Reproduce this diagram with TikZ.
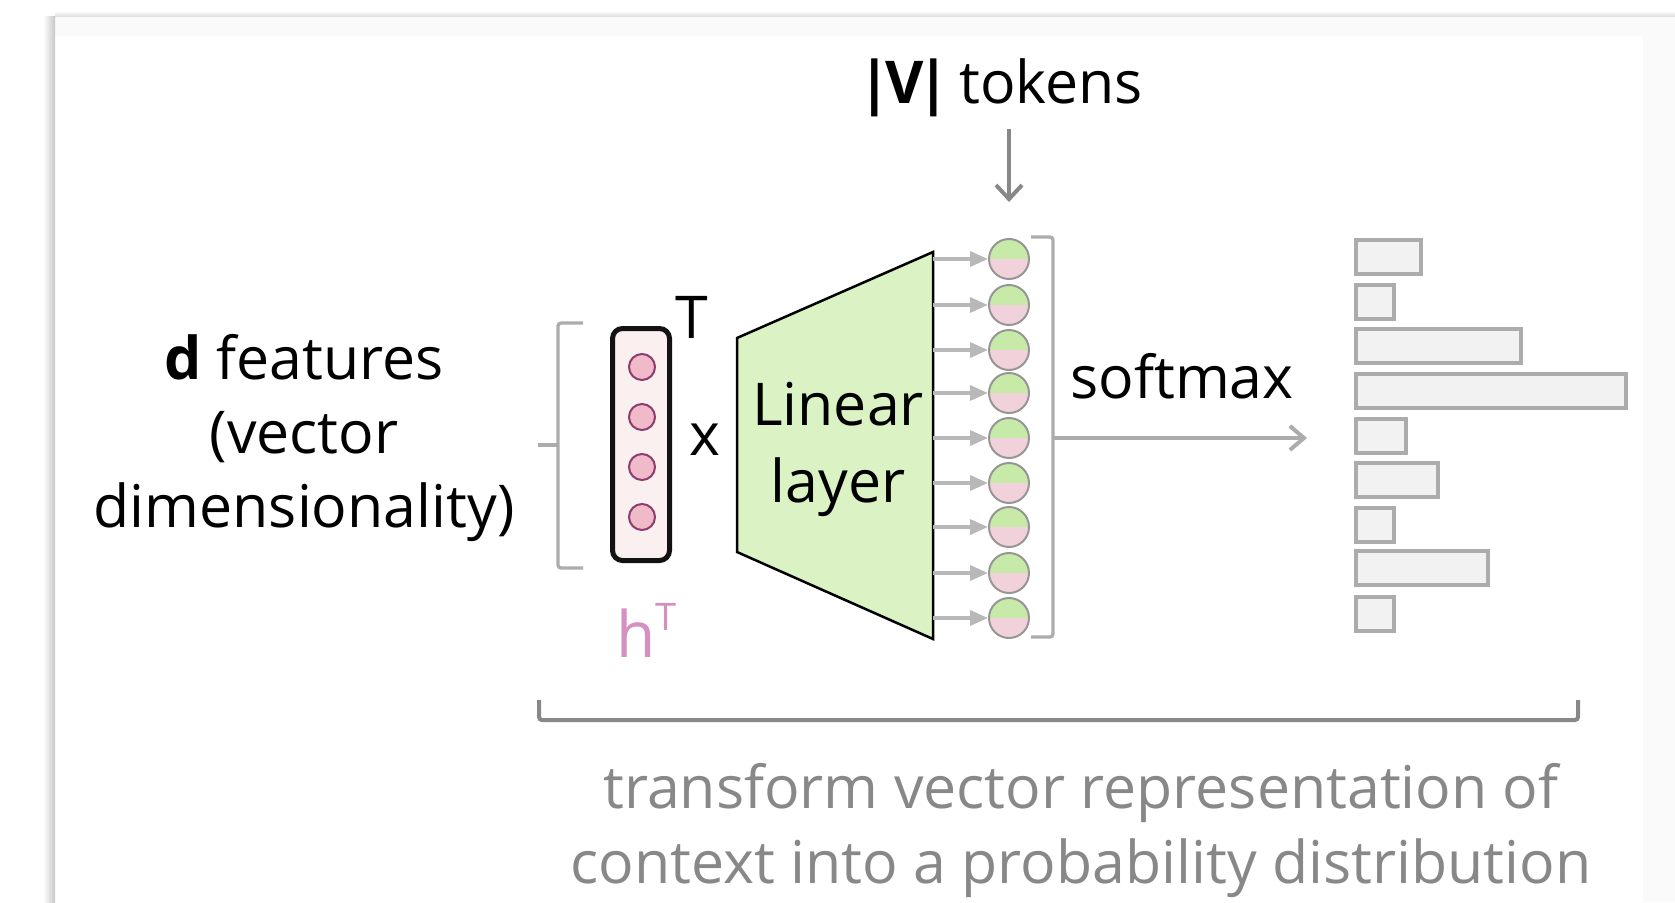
\documentclass[tikz,border=0pt]{standalone}
\usepackage{fontspec}
\setmainfont{Open Sans}
\usetikzlibrary{arrows.meta}
\definecolor{layergreen}{RGB}{218,242,196}
\definecolor{tokgreen}{RGB}{200,234,168}
\definecolor{tokpink}{RGB}{241,210,218}
\definecolor{tokline}{RGB}{150,150,150}
\definecolor{hfill}{RGB}{251,240,240}
\definecolor{hdotfill}{RGB}{240,186,200}
\definecolor{hdotline}{RGB}{140,60,110}
\definecolor{hpink}{RGB}{212,144,192}
\definecolor{lightgrey}{RGB}{172,172,172}
\definecolor{midgrey}{RGB}{136,136,136}
\definecolor{barfill}{RGB}{242,242,242}
\definecolor{cardgrey}{RGB}{250,250,250}
\begin{document}
\begin{tikzpicture}[x=1pt, y=-1pt,
		txt/.style={font=\fontsize{59}{75}\selectfont, align=center, inner sep=0},
		tok/.style={draw=tokline, line width=2, circle, inner sep=0, minimum size=40, fill=tokpink,
			path picture={\fill[tokgreen] (path picture bounding box.north west) rectangle (path picture bounding box.east);}},
		hdot/.style={draw=hdotline, line width=2, circle, inner sep=0, minimum size=26, fill=hdotfill},
		bar/.style={draw=lightgrey, line width=4, fill=barfill, minimum height=34, inner sep=0, anchor=west},
		brk/.style={draw=lightgrey, line width=3.3, rounded corners=3},
		tokarrow/.style={draw=lightgrey!85, line width=3.5, -{Triangle[length=18pt, width=15pt]}}]
	% card
	\useasboundingbox (0,0) rectangle (1675,902);
	\fill[cardgrey] (55,16) rectangle (1675,36);
	\fill[cardgrey] (1643,36) rectangle (1675,902);
	\shade[left color=white, right color=black!22] (43,16) rectangle (55,902);
	\shade[top color=white, bottom color=black!12] (55,11) rectangle (1675,16);
	% input vector
	\draw[brk] (583,323) -- (558,323) -- (558,568) -- (583,568);
	\draw[brk] (558,445) -- (538,445);
	\node (d) [txt, anchor=base, font=\fontsize{59}{74}\selectfont] at (304,527) {{\bfseries d} features\\(vector\\dimensionality)};
	\node (hbox) [draw=black!93, line width=5, rounded corners=10, fill=hfill, minimum width=57, minimum height=232] at (641,444.5) {};
	\node (h1) [hdot] at (642,367) {};
	\node (h2) [hdot] at (642,417) {};
	\node (h3) [hdot] at (642,467) {};
	\node (h4) [hdot] at (642,517) {};
	\node (tsup) [txt, anchor=base] at (692,338) {T};
	\node (hlbl) [txt, text=hpink, anchor=base west, font=\fontsize{64}{64}\selectfont] at (616,657) {h\raisebox{27pt}{\fontsize{38}{38}\selectfont T}};
	\node (times) [txt, anchor=base] at (705,455) {x};
	% linear layer
	\draw[line width=2.5, fill=layergreen, line join=miter] (737,338) -- (933,252) -- (933,639) -- (737,552) -- cycle;
	\coordinate (lr) at (933,444);
	\node (lin) [txt, anchor=base, font=\fontsize{59}{77}\selectfont] at (838,502) {Linear\\layer};
	% vocabulary logits
	\node (c1) [tok] at (1009,259) {};
	\node (c2) [tok] at (1009,305) {};
	\node (c3) [tok] at (1009,350) {};
	\node (c4) [tok] at (1009,393) {};
	\node (c5) [tok] at (1009,438) {};
	\node (c6) [tok] at (1009,483) {};
	\node (c7) [tok] at (1009,527) {};
	\node (c8) [tok] at (1009,573) {};
	\node (c9) [tok] at (1009,618) {};
	\draw[tokarrow] (c1 -| lr) -- (c1);
	\draw[tokarrow] (c2 -| lr) -- (c2);
	\draw[tokarrow] (c3 -| lr) -- (c3);
	\draw[tokarrow] (c4 -| lr) -- (c4);
	\draw[tokarrow] (c5 -| lr) -- (c5);
	\draw[tokarrow] (c6 -| lr) -- (c6);
	\draw[tokarrow] (c7 -| lr) -- (c7);
	\draw[tokarrow] (c8 -| lr) -- (c8);
	\draw[tokarrow] (c9 -| lr) -- (c9);
	\node (vtok) [txt, anchor=base] at (1001,103) {{\bfseries|\kern-6pt V\kern-6pt|}\kern9pt tokens};
	\draw[midgrey, line width=4, -{Straight Barb[length=14pt, width=26pt]}, shorten <=12pt, shorten >=36pt] (vtok.south -| c1) -- (c1.north);
	\draw[brk] (1031,237) -- (1053,237) -- (1053,637) -- (1031,637);
	% softmax
	\coordinate (rb) at (1053,438);
	\coordinate (sm) at (1307,438);
	\draw[lightgrey, line width=4, -{Straight Barb[length=14pt, width=24pt]}] (rb) -- (sm);
	\node (soft) [txt, anchor=base] at (1182,398) {softmax};
	\node (p1) [bar, minimum width=65] at (1354,257) {};
	\node (p2) [bar, minimum width=38] at (1354,302) {};
	\node (p3) [bar, minimum width=165] at (1354,346) {};
	\node (p4) [bar, minimum width=270] at (1354,391) {};
	\node (p5) [bar, minimum width=50] at (1354,435.5) {};
	\node (p6) [bar, minimum width=82] at (1354,480) {};
	\node (p7) [bar, minimum width=38] at (1354,525) {};
	\node (p8) [bar, minimum width=132] at (1354,568) {};
	\node (p9) [bar, minimum width=38] at (1354,613.5) {};
	% caption
	\draw[midgrey, line width=4, rounded corners=3] (539,700) -- (539,720) -- (1578,720) -- (1578,700);
	\node (cap) [txt, text=midgrey, anchor=base] at (1081,883) {transform vector representation of\\context into a probability distribution};
\end{tikzpicture}
\end{document}
